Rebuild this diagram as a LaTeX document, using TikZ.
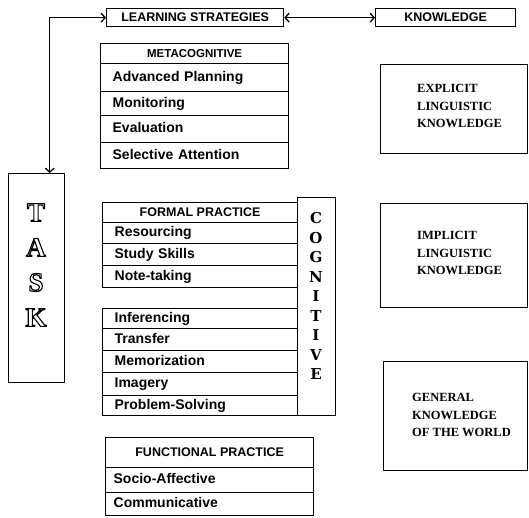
\documentclass[tikz,border=0pt]{standalone}
\usepackage{fontspec}
\setmainfont{Liberation Sans}
\newfontfamily\serifbf{Liberation Serif}
\newfontfamily\slabfont{DejaVu Serif}
\usetikzlibrary{arrows.meta}
\newcommand\hollow[1]{\special{pdf:literal direct 1 Tr 1.1 w}#1\special{pdf:literal direct 0 Tr}}
\begin{document}
\begin{tikzpicture}[x=1pt,y=-1pt,
  frame/.style={draw, line width=1.4pt, anchor=north west, inner sep=0pt},
  row/.style={draw, line width=1.3pt, anchor=north west, inner ysep=0pt, align=left,
    text height=10pt, text depth=3pt, font=\bfseries\fontsize{14}{14}\selectfont},
  metarow/.style={row, inner xsep=12pt, text width=164pt},
  formrow/.style={row, inner xsep=12pt, text width=171pt},
  funcrow/.style={row, inner xsep=8pt, text width=192pt},
  head/.style={draw, line width=1.3pt, anchor=north west, inner sep=0pt, align=center,
    text height=9pt, text depth=1pt, font=\bfseries\fontsize{12.5}{12.5}\selectfont},
  rtext/.style={anchor=west, align=left, inner sep=0pt,
    font=\serifbf\bfseries\fontsize{12.5}{17.5}\selectfont},
  conn/.style={line width=1.3pt, {Straight Barb[length=4pt,width=9pt]}-{Straight Barb[length=4pt,width=9pt]}}
]
\useasboundingbox (0,0) rectangle (529,517);

% top row
\node[head, minimum width=177pt, minimum height=18pt] (ls) at (106,8) {LEARNING STRATEGIES};
\node[head, minimum width=140pt, minimum height=18pt] (know) at (375,8) {KNOWLEDGE};

% TASK
\node[frame, minimum width=56pt, minimum height=209pt] (task) at (8,173) {};
\node[align=center, inner sep=0pt, font=\serifbf\bfseries\fontsize{27}{35}\selectfont] (tasktext) at (36,265) {\hollow{T\\A\\S\\K}};

% connectors
\draw[conn] ([xshift=13pt]task.north) |- (ls.west);
\draw[conn] (ls.east) -- (know.west);

% metacognitive
\node[head, minimum width=188pt, minimum height=20pt, font=\bfseries\fontsize{11.5}{12}\selectfont] (metah) at (100,43) {METACOGNITIVE};
\node[metarow, minimum height=28pt] (ap) at (100,63) {Advanced Planning};
\node[metarow, minimum height=24pt] (mon) at (100,91) {Monitoring};
\node[metarow, minimum height=27pt] (eval) at (100,115) {Evaluation};
\node[metarow, minimum height=26pt] (sel) at (100,142) {Selective Attention};

% cognitive - formal practice
\node[head, minimum width=195pt, minimum height=20pt] (formh) at (102,202) {FORMAL PRACTICE};
\node[formrow, minimum height=21pt] (res) at (102,222) {Resourcing};
\node[formrow, minimum height=22pt] (study) at (102,243) {Study Skills};
\node[formrow, minimum height=22pt] (note) at (102,265) {Note-taking};

\node[formrow, minimum height=20pt] (inf) at (102,308) {Inferencing};
\node[formrow, minimum height=22pt] (trans) at (102,328) {Transfer};
\node[formrow, minimum height=22pt] (mem) at (102,350) {Memorization};
\node[formrow, minimum height=23pt] (imag) at (102,372) {Imagery};
\node[formrow, minimum height=20pt] (prob) at (102,395) {Problem-Solving};

\node[frame, line width=1.3pt, minimum width=38pt, minimum height=218pt] (cog) at (297,197) {};
\node[align=center, inner sep=0pt, font=\slabfont\bfseries\fontsize{15}{19.5}\selectfont] (cogtext) at (316,296) {C\\O\\G\\N\\I\\T\\I\\V\\E};

% functional practice
\node[head, minimum width=208pt, minimum height=30pt] (funch) at (105,437) {FUNCTIONAL PRACTICE};
\node[funcrow, minimum height=25pt] (soc) at (105,467) {Socio-Affective};
\node[funcrow, minimum height=23pt] (comm) at (105,492) {Communicative};

% knowledge boxes
\node[frame, minimum width=147pt, minimum height=89pt] (expl) at (380,64) {};
\node[rtext] (explt) at (417,106) {EXPLICIT\\LINGUISTIC\\KNOWLEDGE};
\node[frame, minimum width=147pt, minimum height=104pt] (impl) at (380,203) {};
\node[rtext] (implt) at (417,253) {IMPLICIT\\LINGUISTIC\\KNOWLEDGE};
\node[frame, minimum width=144pt, minimum height=109pt] (gen) at (383,361) {};
\node[rtext] (gent) at (412,415) {GENERAL\\KNOWLEDGE\\OF THE WORLD};
\end{tikzpicture}
\end{document}
